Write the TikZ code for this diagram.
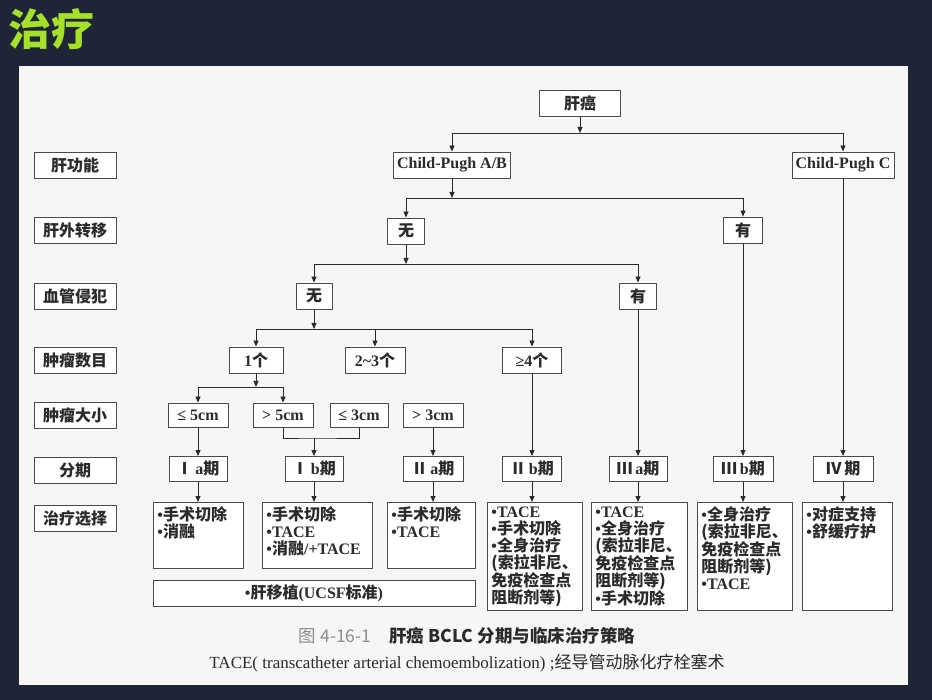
\documentclass[tikz,border=0pt]{standalone}
\usepackage{fontspec}
\setmainfont{Liberation Serif}
\newfontfamily\cjk{Noto Sans CJK SC}
\usepackage{tikz}
\usetikzlibrary{calc,positioning,arrows.meta}
\usepackage{xcolor}
\definecolor{Slate}{HTML}{1E2537}
\definecolor{Paper}{HTML}{F6F7F5}
\definecolor{Ink}{HTML}{2B2B2B}
\definecolor{Frame}{HTML}{4A4A4A}
\definecolor{Lime}{HTML}{A5E02B}
\definecolor{Muted}{HTML}{8C8C8C}
\newcommand{\dotitem}{{\rmfamily\textbullet}}

\begin{document}
\begin{tikzpicture}[x=1pt,y=-1pt,
  box/.style={draw=Frame,line width=.9pt,fill=white,minimum height=26pt,inner sep=1pt,text=Ink,font=\cjk\bfseries\fontsize{16}{17}\selectfont},
  care/.style={draw=Frame,line width=.9pt,fill=white,anchor=north west,inner xsep=4pt,inner ysep=4pt,text=Ink,font=\cjk\bfseries\fontsize{16}{17}\selectfont},
  link/.style={draw=Ink,line width=.8pt},
  arr/.style={link,-{Triangle[width=5pt,length=6pt]}}]
\useasboundingbox (0,0) rectangle (932,700);
\fill[Slate] (0,0) rectangle (932,700);
\fill[Paper] (19,66) rectangle (908,685);
\node[text=Lime,font=\cjk\bfseries\fontsize{43}{43}\selectfont] (title) at (52,29) {治疗};
% left column
\node[box,minimum width=82pt] (l1) at (75,165) {肝功能};
\node[box,minimum width=82pt] (l2) at (75,230) {肝外转移};
\node[box,minimum width=82pt] (l3) at (75,296) {血管侵犯};
\node[box,minimum width=82pt] (l4) at (75,360) {肿瘤数目};
\node[box,minimum width=82pt] (l5) at (75,415) {肿瘤大小};
\node[box,minimum width=82pt] (l6) at (75,470) {分期};
\node[box,minimum width=82pt] (l7) at (75,518) {治疗选择};
% tree
\node[box,minimum width=81pt] (hcc) at (580,103) {肝癌};
\node[box,minimum width=117pt,font=\rmfamily\bfseries\fontsize{16}{17}\selectfont] (cpab) at (452,165) {Child-Pugh A/B};
\node[box,minimum width=102pt,font=\rmfamily\bfseries\fontsize{16}{17}\selectfont] (cpc) at (843,165) {Child-Pugh C};
\node[box,minimum width=37pt] (ext0) at (406,231) {无};
\node[box,minimum width=39pt] (ext1) at (743,230) {有};
\node[box,minimum width=36pt] (vas0) at (314,296) {无};
\node[box,minimum width=37pt] (vas1) at (638,296) {有};
\node[box,minimum width=54pt] (n1) at (256,360) {{\rmfamily 1}个};
\node[box,minimum width=60pt] (n23) at (375,360) {{\rmfamily 2\textasciitilde3}个};
\node[box,minimum width=59pt] (n4) at (532,360) {{\rmfamily ≥4}个};
\node[box,minimum width=60pt,minimum height=24pt] (le5) at (198,415) {\rmfamily ≤ 5cm};
\node[box,minimum width=60pt,minimum height=24pt] (gt5) at (283,415) {\rmfamily > 5cm};
\node[box,minimum width=58pt,minimum height=24pt] (le3) at (359,415) {\rmfamily ≤ 3cm};
\node[box,minimum width=60pt,minimum height=24pt] (gt3) at (433,415) {\rmfamily > 3cm};
\node[box,minimum width=58pt,minimum height=25pt] (Ia) at (198,469) {Ⅰ{\rmfamily\,a}期};
\node[box,minimum width=58pt,minimum height=25pt] (Ib) at (314,469) {Ⅰ{\rmfamily\,b}期};
\node[box,minimum width=60pt,minimum height=25pt] (IIa) at (433,469) {Ⅱ{\rmfamily\,a}期};
\node[box,minimum width=59pt,minimum height=25pt] (IIb) at (532,469) {Ⅱ{\rmfamily\,b}期};
\node[box,minimum width=58pt,minimum height=25pt] (IIIa) at (638,469) {Ⅲ{\rmfamily\,a}期};
\node[box,minimum width=60pt,minimum height=25pt] (IIIb) at (743,469) {Ⅲ{\rmfamily\,b}期};
\node[box,minimum width=60pt,minimum height=25pt] (IV) at (843,469) {Ⅳ\,期};
% treatment boxes
\node[care] (t1) at (153,502) {\parbox[c][58pt][t]{82pt}{\dotitem 手术切除\\\dotitem 消融}};
\node[care] (t2) at (262,502) {\parbox[c][58pt][t]{102pt}{\dotitem 手术切除\\\dotitem{\rmfamily TACE}\\\dotitem 消融{\rmfamily/+TACE}}};
\node[care] (t3) at (387,502) {\parbox[c][58pt][t]{80pt}{\dotitem 手术切除\\\dotitem{\rmfamily TACE}}};
\node[care] (t4) at (487,502) {\parbox[c][100pt][t]{87pt}{\dotitem{\rmfamily TACE}\\\dotitem 手术切除\\\dotitem 全身治疗\\(索拉非尼、\\免疫检查点\\阻断剂等)}};
\node[care] (t5) at (591,502) {\parbox[c][100pt][t]{88pt}{\dotitem{\rmfamily TACE}\\\dotitem 全身治疗\\(索拉非尼、\\免疫检查点\\阻断剂等)\\\dotitem 手术切除}};
\node[care] (t6) at (697,502) {\parbox[c][100pt][t]{87pt}{\dotitem 全身治疗\\(索拉非尼、\\免疫检查点\\阻断剂等)\\\dotitem{\rmfamily TACE}}};
\node[care] (t7) at (802,502) {\parbox[c][100pt][t]{82pt}{\dotitem 对症支持\\\dotitem 舒缓疗护}};
\node[box,minimum width=322pt] (lt) at (314,593) {\dotitem 肝移植{\rmfamily(UCSF}标准{\rmfamily)}};
% caption
\node[text=Ink,font=\cjk\fontsize{17.5}{19}\selectfont] (cap) at (467,636) {{\color{Muted}图 4-16-1}\hspace{18pt}\bfseries 肝癌 BCLC 分期与临床治疗策略};
\node[text=Ink,font=\fontsize{17}{19}\selectfont] (note) at (467,663) {TACE( transcatheter arterial chemoembolization) ;{\cjk 经导管动脉化疗栓塞术}};
% connectors
\coordinate (j1) at (580,133);
\coordinate (j2) at (452,198);
\coordinate (j3) at (406,264);
\coordinate (j4) at (314,329);
\coordinate (j5) at (256,387);
\coordinate (mg) at (314,438);
\draw[arr] (hcc) -- (j1);
\draw[arr] (j1) -| (cpab);
\draw[arr] (j1) -| (cpc);
\draw[arr] (cpab) -- (j2);
\draw[arr] (j2) -| (ext0);
\draw[arr] (j2) -| (ext1);
\draw[arr] (ext0) -- (j3);
\draw[arr] (j3) -| (vas0);
\draw[arr] (j3) -| (vas1);
\draw[arr] (vas0) -- (j4);
\draw[arr] (j4) -| (n1);
\draw[arr] (j4) -| (n23);
\draw[arr] (j4) -| (n4);
\draw[arr] (n1) -- (j5);
\draw[arr] (j5) -| (le5);
\draw[arr] (j5) -| (gt5);
\draw[arr] (le5) -- (Ia);
\draw[link] (gt5) |- (mg) -| (le3);
\draw[arr] (mg) -- (Ib);
\draw[arr] (gt3) -- (IIa);
\draw[arr] (n4) -- (IIb);
\draw[arr] (vas1) -- (IIIa);
\draw[arr] (ext1) -- (IIIb);
\draw[arr] (cpc) -- (IV);
\draw[arr] (Ia) -- (Ia |- t1.north);
\draw[arr] (Ib) -- (Ib |- t2.north);
\draw[arr] (IIa) -- (IIa |- t3.north);
\draw[arr] (IIb) -- (IIb |- t4.north);
\draw[arr] (IIIa) -- (IIIa |- t5.north);
\draw[arr] (IIIb) -- (IIIb |- t6.north);
\draw[arr] (IV) -- (IV |- t7.north);
\end{tikzpicture}
\end{document}
